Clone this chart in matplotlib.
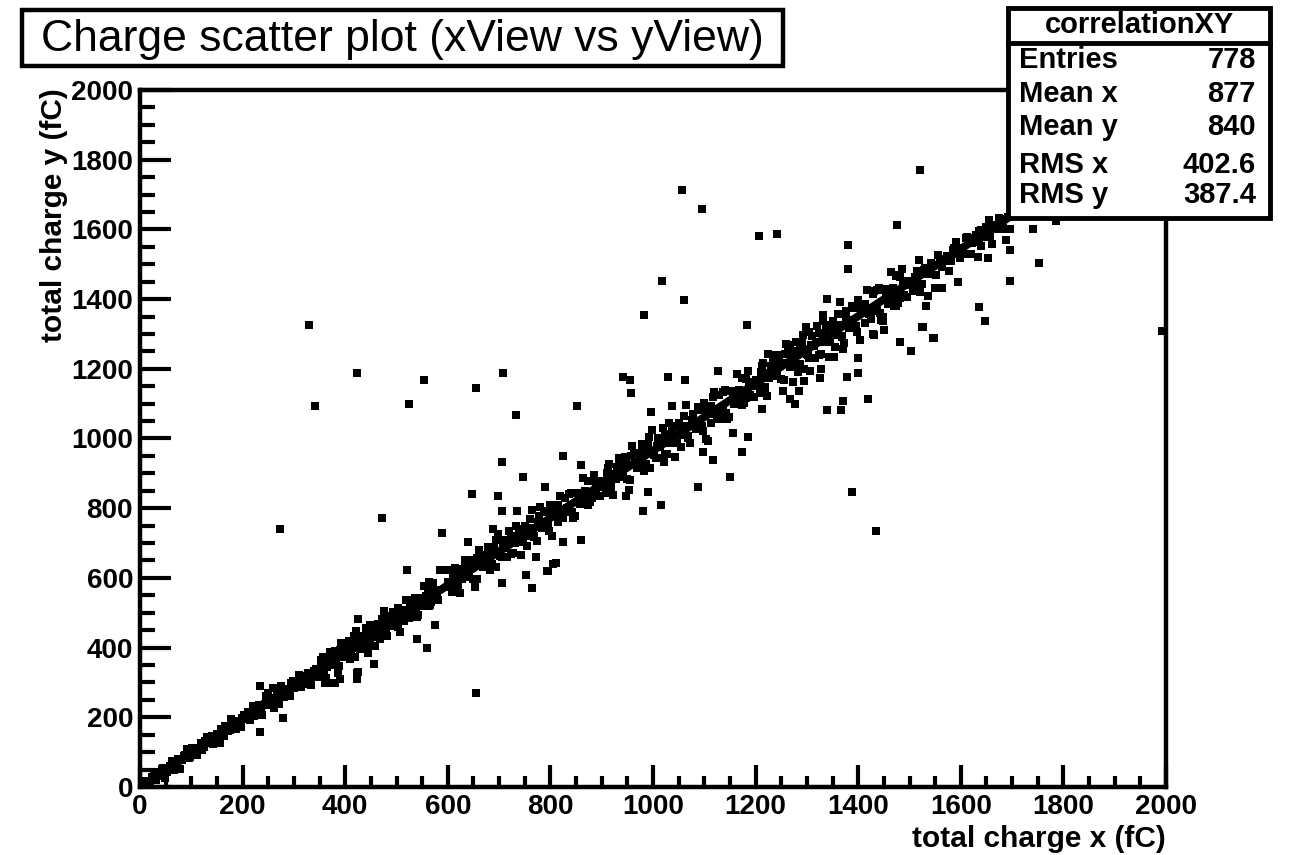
import numpy as np
import matplotlib
matplotlib.use("Agg")
import matplotlib.pyplot as plt
from matplotlib.patches import Rectangle
from matplotlib.lines import Line2D
from matplotlib.ticker import MultipleLocator

plt.rcParams['font.family'] = ['Liberation Sans', 'DejaVu Sans']

# total charge per event, x view and y view (fC), split along the band
low_x = [12, 20, 28, 35, 42, 48, 55, 62, 70, 78, 85, 92, 98, 105, 112, 118, 125, 130, 138, 142,
         150, 155, 160, 166, 172, 178, 183, 190, 196, 202,
         208, 214, 220, 226, 232, 238, 244, 250, 256, 262, 268, 274, 280, 286, 292, 298, 304, 310,
         316, 322, 328, 334, 340, 234, 260, 270, 279, 234, 250, 245,
         16, 24, 31, 38, 45, 52, 58, 66, 74, 81, 88, 95, 101, 108, 115, 121, 127, 134, 140, 146,
         153, 158, 163, 169, 175, 181, 187, 193, 199, 205, 211, 217, 223, 229, 235, 241, 247, 253,
         259, 265, 271, 277, 283, 289, 295, 301, 307, 313, 319, 325, 331, 337]
low_y = [17, 7, 43, 31, 51, 27, 54, 74, 60, 53, 89, 109, 85, 104, 92, 126, 116, 143, 132, 124,
         153, 126, 158, 175, 160, 194, 168, 183, 171, 207,
         207, 192, 232, 214, 236, 207, 237, 259, 237, 226, 268, 289, 257, 280, 262, 303, 287, 321,
         303, 295, 328, 292, 333, 291, 285, 239, 199, 158, 270, 262,
         12, 30, 20, 39, 55, 44, 60, 50, 81, 77, 91, 84, 112, 100, 113, 105, 131, 127, 146, 134,
         148, 166, 147, 167, 163, 185, 167, 189, 198, 194, 216, 207, 205, 229, 221, 234, 252, 236,
         254, 244, 259, 274, 263, 281, 297, 284, 300, 288, 318, 313, 325, 317]

mid1_x = [344, 350, 356, 362, 368, 374, 380, 386, 392, 398, 404, 410, 416, 422, 428, 434, 440, 446,
          452, 458, 464, 470, 476, 482, 488, 494, 500, 506, 512, 518, 524, 530, 536, 542, 548, 554,
          560, 566, 572, 578,
          347, 353, 359, 365, 371, 377, 383, 389, 395, 401, 407, 413, 419, 425, 431, 437, 443, 449,
          455, 461, 467, 473, 479, 485, 491, 497, 503, 509, 515, 521, 527, 533, 539, 545, 551, 557,
          563, 569, 575, 581,
          346, 352, 358, 364, 370, 376, 382, 388, 394, 400, 406, 412, 418, 424, 430, 436, 442, 448,
          454, 460, 466, 472, 478, 484, 490, 496, 502, 508, 514, 520, 526, 532, 538, 544, 550, 556,
          562, 568, 574, 580,
          425, 457, 423, 361, 380, 390, 425, 423, 445, 365, 539, 560, 576, 564, 521, 585, 601, 589]
mid1_y = [339, 317, 372, 314, 368, 356, 390, 328, 412, 372, 392, 368, 419, 447, 397, 417, 456, 406,
          445, 404, 468, 446, 504, 434, 475, 503, 469, 445, 509, 536, 486, 508, 542, 493, 539, 576,
          531, 523, 584, 557,
          334, 364, 330, 345, 387, 371, 349, 392, 379, 373, 418, 410, 374, 400, 434, 425, 405, 465,
          434, 459, 424, 463, 445, 490, 473, 469, 513, 504, 477, 504, 501, 538, 489, 542, 528, 547,
          518, 569, 540, 566,
          328, 354, 325, 354, 382, 351, 377, 346, 399, 384, 403, 381, 433, 400, 419, 397, 443, 427,
          460, 430, 451, 483, 442, 476, 462, 499, 459, 496, 509, 494, 532, 510, 499, 542, 518, 539,
          570, 532, 561, 537,
          481, 354, 328, 299, 299, 311, 331, 311, 385, 299, 426, 400, 466, 587, 624, 624, 624, 728]

mid2_x = [600, 608, 615, 623, 630, 638, 645, 653, 660, 668, 675, 683, 690, 698, 705, 713, 720, 728,
          735, 743, 750, 758, 765, 773, 780, 788, 795, 803, 810, 818, 825, 833, 840, 848, 855, 863,
          870, 878, 885, 893,
          604, 612, 619, 627, 634, 642, 649, 657, 664, 672, 679, 687, 694, 702, 709, 717, 724, 732,
          739, 747, 754, 762, 769, 777, 784, 792, 799, 807, 814, 822, 829, 837, 844, 852, 859, 867,
          874, 882, 889, 896,
          603, 611, 618, 626, 633, 641, 648, 656, 663, 671, 678, 686, 693, 701, 708, 716, 723, 731,
          738, 746, 753, 761, 768, 776, 783, 791, 798, 806, 813, 821, 828, 836, 843, 851, 858, 866,
          873, 881, 888, 896,
          640, 689, 706, 753, 765, 796, 810, 771, 747, 825, 790, 779, 814, 825, 859, 806, 794, 648,
          697, 706, 735, 706, 860]
mid2_y = [588, 559, 629, 556, 625, 609, 652, 573, 681, 630, 653, 623, 689, 726, 659, 686, 735, 672,
          721, 667, 750, 721, 796, 705, 759, 793, 749, 720, 802, 835, 771, 800, 843, 779, 838, 886,
          828, 817, 896, 861,
          582, 621, 575, 596, 650, 630, 598, 657, 638, 630, 689, 677, 630, 664, 708, 696, 669, 748,
          706, 740, 692, 744, 720, 779, 755, 749, 809, 796, 760, 795, 789, 840, 772, 844, 824, 849,
          810, 877, 838, 871,
          574, 608, 569, 608, 644, 603, 635, 597, 665, 645, 668, 640, 708, 665, 688, 660, 719, 699,
          741, 702, 728, 769, 716, 761, 742, 789, 736, 786, 802, 782, 830, 803, 788, 843, 811, 839,
          879, 829, 866, 835,
          702, 740, 584, 607, 570, 619, 642, 659, 889, 950, 860, 803, 809, 702, 708, 639, 619, 840,
          835, 791, 791, 932, 924]

mid3_x = [900, 908, 915, 923, 930, 938, 945, 953, 960, 968, 975, 983, 990, 998, 1005, 1013, 1020,
          1028, 1035, 1043, 1050, 1058, 1065, 1073, 1080, 1088, 1095, 1103, 1110, 1118, 1125, 1133,
          1140, 1148, 1155, 1163, 1170, 1178, 1185, 1193,
          904, 912, 919, 927, 934, 942, 949, 957, 964, 972, 979, 987, 994, 1002, 1009, 1017, 1024,
          1032, 1039, 1047, 1054, 1062, 1069, 1077, 1084, 1092, 1099, 1107, 1114, 1122, 1129, 1137,
          1144, 1152, 1159, 1167, 1174, 1182, 1189, 1197,
          903, 911, 918, 926, 933, 941, 948, 956, 963, 971, 978, 986, 993, 1001, 1008, 1016, 1023,
          1031, 1038, 1046, 1053, 1061, 1068, 1076, 1083, 1091, 1098, 1106, 1113, 1121, 1128, 1136,
          1143, 1151, 1158, 1166, 1173, 1181, 1188, 1196,
          981, 1015, 1087, 1151, 1116, 1108, 1173, 1186, 1155, 1021, 948, 991, 1097, 997, 942, 956,
          958, 1030, 1063, 1126, 1116, 1038, 1138]
mid3_y = [879, 843, 926, 838, 917, 897, 947, 852, 978, 916, 944, 906, 982, 1024, 945, 975, 1031,
          956, 1013, 947, 1044, 1009, 1097, 987, 1049, 1089, 1036, 999, 1094, 1134, 1056, 1088,
          1138, 1062, 1131, 1184, 1115, 1102, 1193, 1150,
          871, 914, 863, 885, 944, 920, 884, 950, 926, 917, 983, 968, 914, 953, 1001, 986, 955,
          1044, 995, 1032, 976, 1035, 1007, 1071, 1044, 1037, 1103, 1087, 1045, 1085, 1076, 1133,
          1057, 1136, 1113, 1140, 1096, 1171, 1124, 1162,
          863, 900, 854, 899, 938, 890, 927, 881, 958, 934, 961, 926, 1003, 952, 979, 945, 1011,
          987, 1035, 988, 1018, 1065, 1002, 1052, 1028, 1083, 1021, 1076, 1094, 1070, 1125, 1091,
          1073, 1137, 1098, 1128, 1174, 1116, 1158, 1119,
          791, 809, 860, 889, 938, 993, 961, 1004, 1016, 932, 835, 846, 961, 1076, 1177, 1168,
          1131, 1177, 1168, 1194, 1119, 1094, 1056]

high1_x = [1200, 1208, 1215, 1223, 1230, 1238, 1245, 1253, 1260, 1268, 1275, 1283, 1290, 1298, 1305,
           1313, 1320, 1328, 1335, 1343, 1350, 1358, 1365, 1373, 1380, 1388, 1395, 1403, 1410, 1418,
           1425, 1433, 1440, 1448, 1455, 1463, 1470, 1478, 1485, 1493,
           1204, 1212, 1219, 1227, 1234, 1242, 1249, 1257, 1264, 1272, 1279, 1287, 1294, 1302, 1309,
           1317, 1324, 1332, 1339, 1347, 1354, 1362, 1369, 1377, 1384, 1392, 1399, 1407, 1414, 1422,
           1429, 1437, 1444, 1452, 1459, 1467, 1474, 1482, 1489, 1497,
           1203, 1211, 1218, 1226, 1233, 1241, 1248, 1256, 1263, 1271, 1278, 1286, 1293, 1301, 1308,
           1316, 1323, 1331, 1338, 1346, 1353, 1361, 1368, 1376, 1383, 1391, 1398, 1406, 1413, 1421,
           1428, 1436, 1443, 1451, 1458, 1466, 1473, 1481, 1488, 1496,
           1268, 1225, 1305, 1448, 1526, 1545, 1481, 1502, 1450, 1430, 1399, 1399, 1378, 1420, 1370,
           1366, 1340, 1325, 1327, 1370, 1352, 1272, 1284, 1268, 1276, 1294, 1307, 1212, 1340, 1331,
           1469, 1428, 1475, 1430, 1405, 1380]
high1_y = [1169, 1131, 1218, 1123, 1208, 1187, 1239, 1136, 1272, 1204, 1233, 1192, 1274, 1319, 1232,
           1264, 1324, 1243, 1303, 1233, 1337, 1297, 1391, 1273, 1339, 1381, 1324, 1284, 1386, 1427,
           1343, 1377, 1431, 1348, 1421, 1479, 1404, 1388, 1486, 1440,
           1161, 1208, 1149, 1173, 1239, 1211, 1170, 1242, 1216, 1204, 1276, 1260, 1199, 1240, 1293,
           1276, 1241, 1338, 1283, 1324, 1262, 1325, 1293, 1365, 1334, 1324, 1397, 1379, 1332, 1374,
           1365, 1427, 1341, 1428, 1402, 1431, 1381, 1463, 1412, 1453,
           1151, 1191, 1141, 1188, 1230, 1179, 1217, 1167, 1249, 1224, 1251, 1214, 1296, 1242, 1268,
           1232, 1303, 1277, 1326, 1277, 1308, 1356, 1290, 1342, 1317, 1374, 1307, 1367, 1385, 1358,
           1416, 1381, 1361, 1427, 1386, 1418, 1467, 1403, 1447, 1407,
           1269, 1243, 1306, 1338, 1321, 1289, 1278, 1252, 1312, 1298, 1232, 1188, 1177, 1114, 1108,
           1082, 1082, 1174, 1200, 1258, 1235, 1163, 1137, 1114, 1099, 1165, 1194, 1085, 1401, 1353,
           1381, 1301, 1468, 1422, 1381, 1485]

high2_x = [1500, 1507, 1514, 1521, 1528, 1535, 1542, 1549, 1556, 1563, 1570, 1577, 1584, 1591, 1598,
           1605, 1612, 1619, 1626, 1633, 1640, 1647, 1654, 1661, 1668, 1675, 1682, 1689, 1696, 1703,
           1503, 1510, 1517, 1524, 1531, 1538, 1545, 1552, 1559, 1566, 1573, 1580, 1587, 1594, 1601,
           1608, 1615, 1622, 1629, 1636, 1643, 1650, 1657, 1664, 1671, 1678, 1685, 1692,
           1524, 1518, 1610, 1635, 1594, 1563, 1536, 1532, 1524, 1547, 1696, 1696, 1696, 1653, 1639,
           1635, 1647, 1740, 1785, 1752]
high2_y = [1453, 1424, 1481, 1419, 1484, 1474, 1504, 1433, 1526, 1491, 1516, 1482, 1541, 1563, 1519,
           1547, 1577, 1528, 1575, 1522, 1597, 1578, 1628, 1559, 1613, 1634, 1604, 1570, 1648, 1668,
           1444, 1464, 1443, 1473, 1489, 1472, 1495, 1470, 1514, 1509, 1524, 1508, 1546, 1529, 1547,
           1528, 1567, 1560, 1583, 1565, 1586, 1606, 1580, 1611, 1602, 1629, 1600, 1636,
           1442, 1511, 1574, 1594, 1448, 1433, 1410, 1381, 1321, 1289, 1600, 1542, 1453, 1519, 1551,
           1376, 1338, 1600, 1623, 1505]

far_x = [1057, 1096, 1018, 1060, 983, 330, 423, 341, 554, 525, 654, 708, 733, 851, 273, 472, 654,
         1387, 1434, 1206, 1241, 1381, 1475, 1520, 1992, 1184]
far_y = [1712, 1658, 1453, 1396, 1353, 1327, 1188, 1094, 1168, 1099, 1145, 1188, 1067, 1094, 740,
         771, 271, 846, 734, 1580, 1586, 1554, 1614, 1770, 1309, 1327]

# straight-line fit through the band
fit_slope = 0.965
fit_offset = 0.0
fit_x = [0, 2000]

hist_name = "correlationXY"
stat_labels = ["Entries", "Mean x", "Mean y", "RMS x", "RMS y"]
stat_values = ["778", "877", "840", "402.6", "387.4"]

xs = np.array(low_x + mid1_x + mid2_x + mid3_x + high1_x + high2_x + far_x, dtype=float)
ys = np.array(low_y + mid1_y + mid2_y + mid3_y + high1_y + high2_y + far_y, dtype=float)

W, H = 1304, 855
fig = plt.figure(figsize=(W / 100, H / 100), dpi=100)
ax = fig.add_axes([140 / W, 1 - 787 / H, (1166 - 140) / W, (787 - 90) / H])

ax.plot(xs, ys, 's', color='black', markersize=6.0, markeredgewidth=0, zorder=2)
fx = np.array(fit_x, dtype=float)
ax.plot(fx, fit_slope * fx + fit_offset, color='black', lw=5.8, solid_capstyle='butt', zorder=3)

ax.set_xlim(0, 2000)
ax.set_ylim(0, 2000)
ax.xaxis.set_major_locator(MultipleLocator(200))
ax.xaxis.set_minor_locator(MultipleLocator(50))
ax.yaxis.set_major_locator(MultipleLocator(200))
ax.yaxis.set_minor_locator(MultipleLocator(50))
for s in ax.spines.values():
    s.set_linewidth(3.2)
ax.tick_params(axis='x', which='major', direction='in', length=16, width=3, pad=5,
               labelsize=20, top=False)
ax.tick_params(axis='x', which='minor', direction='in', length=8, width=3, top=False)
ax.tick_params(axis='y', which='major', direction='in', length=22, width=3, pad=5,
               labelsize=20, right=False)
ax.tick_params(axis='y', which='minor', direction='in', length=11, width=3, right=False)
for lab in ax.get_xticklabels() + ax.get_yticklabels():
    lab.set_fontweight('bold')

fig.text(1166 / W, 1 - 853 / H, "total charge x (fC)", ha='right', va='bottom',
         fontsize=21.5, fontweight='bold')
fig.text(54 / W, 1 - 88 / H, "total charge y (fC)", ha='center', va='top', rotation=90,
         fontsize=21.5, fontweight='bold')

# title box
fig.patches.append(Rectangle((22 / W, 1 - 66 / H), (783 - 22) / W, (66 - 10) / H,
                             transform=fig.transFigure, facecolor='white', edgecolor='black',
                             lw=3.2, zorder=5))
fig.text(402 / W, 1 - 39 / H, "Charge scatter plot (xView vs yView)", ha='center', va='center',
         fontsize=32, zorder=6)

# statistics box
bx0, bx1, by0, by1 = 1008, 1270, 8, 218
fig.patches.append(Rectangle((bx0 / W, 1 - by1 / H), (bx1 - bx0) / W, (by1 - by0) / H,
                             transform=fig.transFigure, facecolor='white', edgecolor='black',
                             lw=3.5, zorder=5))
fig.lines.append(Line2D([bx0 / W, bx1 / W], [1 - 43 / H, 1 - 43 / H], transform=fig.transFigure,
                        color='black', lw=3.5, zorder=6))
fig.text((bx0 + bx1) / 2 / W, 1 - 25 / H, hist_name, ha='center', va='center',
         fontsize=21, fontweight='bold', zorder=7)
row_y = [60, 94, 127, 165, 195]
for lab, val, ry in zip(stat_labels, stat_values, row_y):
    fig.text(1019 / W, 1 - ry / H, lab, ha='left', va='center', fontsize=21, fontweight='bold', zorder=7)
    fig.text(1256 / W, 1 - ry / H, val, ha='right', va='center', fontsize=21, fontweight='bold', zorder=7)

fig.savefig("out.png", dpi=100)
